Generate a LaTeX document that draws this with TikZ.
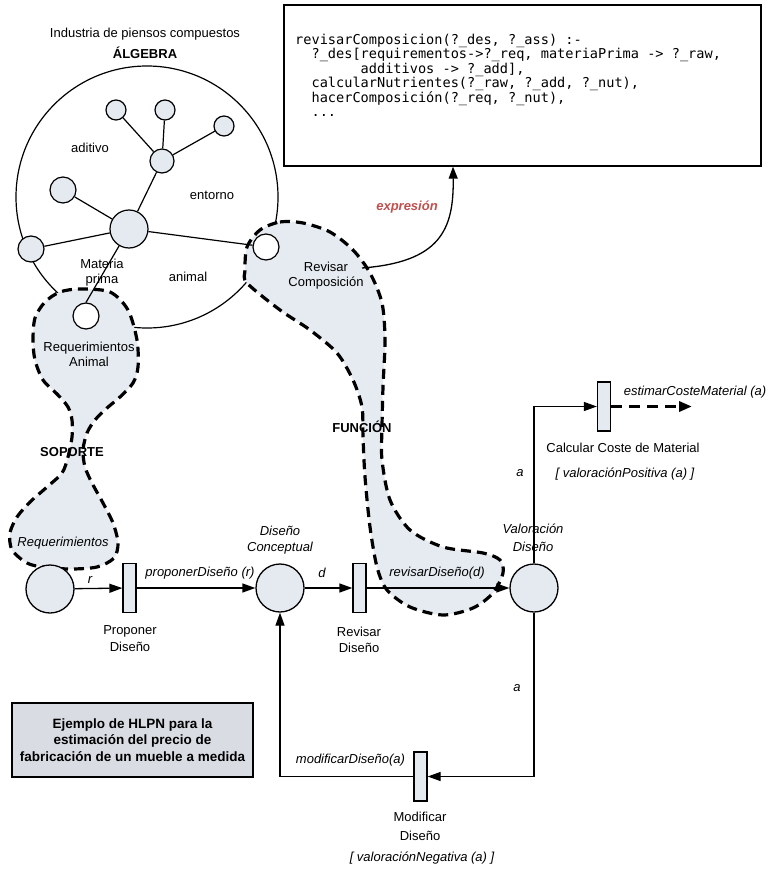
\documentclass[tikz,border=0pt]{standalone}
\usepackage{fontspec}
\setmainfont{Liberation Sans}
\setmonofont{DejaVu Sans Mono}
\usetikzlibrary{arrows.meta}
\definecolor{placefill}{RGB}{229,234,240}
\definecolor{regionfill}{RGB}{230,235,241}
\definecolor{exprred}{RGB}{192,80,77}
\definecolor{boxfill}{RGB}{217,220,227}
\begin{document}
\begin{tikzpicture}[x=1pt,y=-1pt,
  lbl/.style={font=\fontsize{13}{16}\selectfont, inner sep=0pt, align=center},
  ilbl/.style={font=\fontsize{13}{16}\selectfont\itshape, inner sep=0pt, align=center},
  blbl/.style={font=\fontsize{13}{16}\selectfont\bfseries, inner sep=0pt, align=center},
  pplace/.style={circle, draw, line width=1.3pt, fill=placefill, minimum size=48pt, inner sep=0pt},
  ttrans/.style={rectangle, draw, line width=1.3pt, fill=placefill, minimum width=13pt, minimum height=49pt, inner sep=0pt},
  pnarc/.style={line width=1.3pt, -{Triangle[length=13pt,width=9pt]}},
  anode/.style={circle, draw, line width=1.2pt, fill=placefill, inner sep=0pt},
  wnode/.style={circle, draw, line width=1.2pt, fill=white, inner sep=0pt, minimum size=26pt},
  netline/.style={line width=1.2pt},
  dregion/.style={line width=3.2pt, dash pattern=on 10pt off 6pt},
  dasharrow/.style={line width=3.3pt, dash pattern=on 11pt off 7pt, -{Triangle[length=13pt,width=10pt]}}
]
\useasboundingbox (0,0) rectangle (772,869);

% algebra circle
\draw[netline] (147,197) circle[radius=131pt];

% region fills
\path[save path=\regA] plot[smooth cycle] coordinates {(80,289) (110,292) (128,310) (137,340) (138,367) (133,383) (120,397) (107,408) (95,420) (87,433) (83,450) (85,467) (92,483) (103,503) (113,523) (118,543) (114,558) (97,567) (70,569) (43,567) (27,563) (12,550) (10,533) (17,517) (30,502) (47,487) (62,473) (68,457) (72,437) (72,420) (68,407) (58,395) (43,380) (35,360) (33,340) (35,318) (45,302) (60,292)};
\path[save path=\regB] plot[smooth cycle] coordinates {(260,230) (280,222) (303,223) (330,232) (353,250) (370,273) (382,303) (385,340) (383,387) (382,427) (382,460) (390,500) (410,530) (443,547) (483,553) (500,560) (503,573) (493,593) (473,608) (443,615) (410,607) (387,590) (377,567) (370,527) (365,477) (363,437) (362,407) (353,380) (337,353) (310,330) (280,310) (247,283) (245,270) (247,247)};
\fill[regionfill, use path=\regA];
\fill[regionfill, use path=\regB];

% labels
\node[lbl] (title1) at (145,34) {Industria de piensos compuestos};
\node[blbl] (title2) at (145,53) {ÁLGEBRA};
\node[lbl] (laditivo) at (90,148) {aditivo};
\node[lbl] (lentorno) at (212,195) {entorno};
\node[lbl, font=\fontsize{13}{15}\selectfont] (lmateria) at (102,272.5) {Materia\\prima};
\node[lbl] (lanimal) at (188,277) {animal};
\node[lbl, font=\fontsize{13}{15}\selectfont] (lrevcomp) at (326,275.5) {Revisar\\Composición};
\node[lbl, font=\fontsize{13}{15}\selectfont] (lreqanim) at (89,354.5) {Requerimientos\\Animal};
\node[blbl] (lsoporte) at (72,452) {SOPORTE};
\node[blbl] (lfuncion) at (362,427) {FUNCIÓN};
\node[inner sep=0pt, font=\fontsize{13}{16}\selectfont\bfseries\itshape, text=exprred] (lexpr) at (407,207) {expresión};
\node[ilbl] (lreq) at (63,543) {Requerimientos};
\node[ilbl] (lr) at (90,580) {r};
\node[ilbl] (lprop) at (200,573) {proponerDiseño (r)};
\node[ilbl] (ldc) at (280,540) {Diseño\\Conceptual};
\node[ilbl] (ld) at (322,573) {d};
\node[ilbl] (lrevd) at (437,573) {revisarDiseño(d)};
\node[ilbl, font=\fontsize{13}{18}\selectfont\itshape] (lval) at (533,538) {Valoración\\Diseño};
\node[lbl, font=\fontsize{13}{17}\selectfont] (lpd) at (130,639) {Proponer\\Diseño};
\node[lbl] (lrd) at (359,640) {Revisar\\Diseño};
\node[ilbl] (la1) at (520,473) {a};
\node[ilbl] (la2) at (517,688) {a};
\node[ilbl] (lest) at (695,392) {estimarCosteMaterial (a)};
\node[lbl] (lccm) at (623,448) {Calcular Coste de Material};
\node[ilbl] (lvp) at (625,474) {[ valoraciónPositiva (a) ]};
\node[ilbl] (lmd) at (350.5,760) {modificarDiseño(a)};
\node[lbl, font=\fontsize{13}{19}\selectfont] (lmod) at (420,826.5) {Modificar\\Diseño};
\node[ilbl] (lvn) at (422,858) {[ valoraciónNegativa (a) ]};

% region outlines
\draw[dregion, use path=\regA];
\draw[dregion, use path=\regB];

% algebra nodes
\node[anode, minimum size=38pt] (n0) at (129,229) {};
\node[anode, minimum size=24pt] (n1) at (162,161) {};
\node[anode, minimum size=20pt] (n2) at (116,110) {};
\node[anode, minimum size=20pt] (n3) at (165,110) {};
\node[anode, minimum size=20pt] (n4) at (224,126) {};
\node[anode, minimum size=26pt] (n5) at (63,190) {};
\node[anode, minimum size=26pt] (n6) at (31,249) {};
\node[wnode] (rc) at (266,247) {};
\node[wnode] (ra) at (86,316) {};
\draw[netline] (n0) -- (n1);
\draw[netline] (n1) -- (n2);
\draw[netline] (n1) -- (n3);
\draw[netline] (n1) -- (n4);
\draw[netline] (n0) -- (n5);
\draw[netline] (n0) -- (n6);
\draw[netline] (n0) -- (rc);
\draw[netline] (n0) -- (ra.north);

% code box
\node[draw, line width=1.3pt, minimum width=477pt, minimum height=161pt, inner sep=0pt] (code) at (522.5,85.5) {};
\node[anchor=north west, inner sep=0pt, align=left, font=\ttfamily\fontsize{13.6}{14.4}\selectfont] (codetext) at (295,34) {revisarComposicion(?\_des, ?\_ass) :-\\
\phantom{xx}?\_des[requirementos->?\_req, materiaPrima -> ?\_raw,\\
\phantom{xxxxxxxx}additivos -> ?\_add],\\
\phantom{xx}calcularNutrientes(?\_raw, ?\_add, ?\_nut),\\
\phantom{xx}hacerComposición(?\_req, ?\_nut),\\
\phantom{xx}...};
\coordinate (cs) at (362,268);
\draw[line width=1.3pt, -{Triangle[length=12pt,width=9pt]}] (cs) .. controls (440,262) and (454,230) .. ([xshift=-69.5pt]code.south);

% Petri net
\node[pplace] (p1) at (50,589) {};
\node[pplace] (p2) at (280,588) {};
\node[pplace] (p3) at (534,588) {};
\node[ttrans] (t1) at (129.5,588) {};
\node[ttrans] (t2) at (359.5,588) {};
\node[ttrans] (t3) at (420.5,776.5) {};
\node[ttrans] (t4) at (604,406.5) {};
\draw[pnarc] (p1) -- (t1);
\draw[pnarc] (t1) -- (p2);
\draw[pnarc] (p2) -- (t2);
\draw[pnarc] (t2) -- (p3);
\draw[pnarc] (p3.north) |- (t4.west);
\draw[pnarc] (p3.south) |- (t3.east);
\draw[pnarc] (t3.west) -| (p2.south);
\coordinate (estend) at (692,406.5);
\draw[dasharrow] (t4.east) -- (estend);

% HLPN box
\node[draw, fill=boxfill, line width=1.3pt, minimum width=241pt, minimum height=74pt, inner sep=0pt, align=center, font=\fontsize{13.5}{16.5}\selectfont\bfseries] (hlpn) at (132.5,740) {Ejemplo de HLPN para la\\estimación del precio de\\fabricación de un mueble a medida};
\end{tikzpicture}
\end{document}
